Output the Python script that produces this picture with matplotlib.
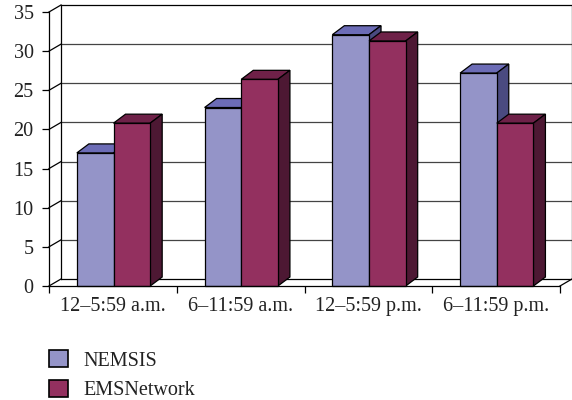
import matplotlib.pyplot as plt
from matplotlib.patches import Polygon, Patch

# Share of calls by time of day (%)
periods = ['12\u20135:59 a.m.', '6\u201311:59 a.m.', '12\u20135:59 p.m.', '6\u201311:59 p.m.']
nemsis = [17.0, 22.8, 32.1, 27.2]
emsnetwork = [20.8, 26.4, 31.3, 20.8]
series = {'NEMSIS': nemsis, 'EMSNetwork': emsnetwork}

# front / top / side shades for each series
shades = {'NEMSIS': ('#9494c8', '#6c6cb6', '#4a4a80'),
          'EMSNetwork': ('#93305f', '#6e2148', '#4d1833')}

W, H = 572, 400
fig = plt.figure(figsize=(W / 100, H / 100), dpi=100)
fig.patch.set_facecolor('white')

# front plane of the 3D box, in pixels
left, right, bottom, top = 49, 560, 286, 12
ax = fig.add_axes([left / W, 1 - bottom / H, (right - left) / W, (bottom - top) / H])
ymax = 35
ax.set_xlim(0, len(periods))
ax.set_ylim(0, ymax)

px_x = (right - left) / len(periods)  # pixels per category
px_y = (bottom - top) / ymax          # pixels per value unit

# depth offsets (pixels -> data)
wall_dx, wall_dy = 12 / px_x, 7 / px_y
bar_dx, bar_dy = 12 / px_x, 9 / px_y

font = 'Liberation Serif'
fsize = 14.5
lw = 0.9
grid_c = '#444444'

# back wall grid + side diagonals
for v in range(0, ymax + 1, 5):
    ax.plot([wall_dx, len(periods) + wall_dx], [v + wall_dy] * 2, color=grid_c if 0 < v < ymax else 'black',
            lw=lw, clip_on=False, zorder=1)
    ax.plot([0, wall_dx], [v, v + wall_dy], color='black', lw=lw, clip_on=False, zorder=1)
ax.plot([wall_dx, wall_dx], [wall_dy, ymax + wall_dy], color='black', lw=lw, clip_on=False, zorder=1)
ax.plot([len(periods) + wall_dx] * 2, [wall_dy, ymax + wall_dy], color='black', lw=lw, clip_on=False, zorder=1)
ax.plot([len(periods), len(periods) + wall_dx], [0, wall_dy], color='black', lw=lw, clip_on=False, zorder=1)

# bars
offset, width = 0.218, 0.287
for i in range(len(periods)):
    for j, (name, vals) in enumerate(series.items()):
        x0 = i + offset + j * width
        x1 = x0 + width
        h = vals[i]
        fc, tc, sc = shades[name]
        faces = [
            ([(x0, h), (x1, h), (x1 + bar_dx, h + bar_dy), (x0 + bar_dx, h + bar_dy)], tc),
            ([(x1, 0), (x1 + bar_dx, bar_dy), (x1 + bar_dx, h + bar_dy), (x1, h)], sc),
            ([(x0, 0), (x1, 0), (x1, h), (x0, h)], fc),
        ]
        for pts, c in faces:
            ax.add_patch(Polygon(pts, closed=True, facecolor=c, edgecolor='black', lw=lw,
                                 clip_on=False, zorder=3 + i * 2 + j))

# axes
for s in ['top', 'right']:
    ax.spines[s].set_visible(False)
for s in ['left', 'bottom']:
    ax.spines[s].set_linewidth(lw)
    ax.spines[s].set_zorder(20)
ax.set_facecolor('none')
ax.set_yticks(range(0, ymax + 1, 5))
ax.set_xticks([i + 0.5 for i in range(len(periods))])
ax.set_xticklabels(periods)
ax.set_xticks(range(len(periods) + 1), minor=True)
ax.tick_params(axis='x', which='major', length=0, pad=8)
ax.tick_params(axis='x', which='minor', length=5, width=lw, direction='out')
ax.tick_params(axis='y', length=5, width=lw, direction='out', pad=6)
for lab in ax.get_xticklabels() + ax.get_yticklabels():
    lab.set_fontfamily(font)
    lab.set_fontsize(fsize)
    lab.set_color('#222222')

handles = [Patch(facecolor=shades[n][0], edgecolor='black', lw=1.2, label=n) for n in series]
leg = fig.legend(handles=handles, loc='upper left', bbox_to_anchor=(49 / W, 1 - 350 / H),
                 frameon=False, prop={'family': font, 'size': fsize},
                 handlelength=0.95, handleheight=0.95, handletextpad=0.75, labelspacing=0.45,
                 borderpad=0, borderaxespad=0)
for t in leg.get_texts():
    t.set_color('#222222')

fig.savefig('out.png', dpi=100)
